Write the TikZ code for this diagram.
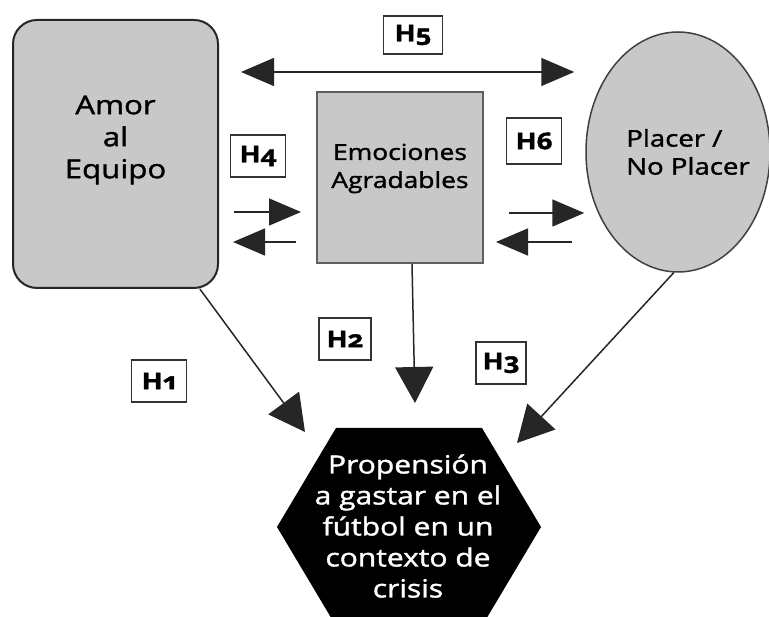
\documentclass[tikz,border=0pt]{standalone}
\usepackage{fontspec}
\setmainfont{Open Sans}[FakeStretch=1.2,FakeBold=1.5,Numbers=OldStyle]
\usepackage{tikz}
\usetikzlibrary{arrows.meta,shapes.geometric}
\definecolor{boxgray}{RGB}{200,200,200}
\definecolor{edgegray}{RGB}{95,95,95}

\begin{document}
\begin{tikzpicture}[x=1pt,y=1pt,
        construct/.style={draw=edgegray, line width=2pt, fill=boxgray, inner sep=0pt},
        hyp/.style={draw=black!80, line width=1.5pt, fill=white, minimum width=55pt, minimum height=42pt,
          inner sep=0pt, font={\fontsize{23}{23}\selectfont\bfseries}},
        bigarrow/.style={line width=1.5pt, black!85, -{Triangle[length=36pt,width=38pt]}},
        smallarrow/.style={line width=1.5pt, black!85, -{Triangle[length=32pt,width=27pt]}}]
          \useasboundingbox (0,0) rectangle (769,617);

          %draw constructs
          \node[construct, draw=black!85, rounded corners=24pt, minimum width=205pt, minimum height=268pt,
                label={[yshift=14pt, align=center, font=\fontsize{26}{32}\selectfont]center:Amor\\al\\Equipo}] (amor) at (115.5,463) {};
          \node[construct, minimum width=166pt, minimum height=171pt,
                label={[yshift=9pt, align=center, font=\fontsize{22}{28}\selectfont]center:Emociones\\Agradables}] (emo) at (400,439.5) {};
          \node[construct, ellipse, draw=black!75, line width=1.5pt, minimum width=184pt, minimum height=240pt,
                label={[xshift=10pt, align=left, font=\fontsize{23}{28}\selectfont]center:Placer /\\No Placer}] (placer) at (678,465) {};

          %draw outcome hexagon
          \coordinate (propc) at (409,90);
          \fill (propc) ++(-132,0) -- ++(59,99) -- ++(146,0) -- ++(59,-99) -- ++(-59,-99) -- ++(-146,0) -- cycle;
          \node[align=center, text=white, font=\fontsize{25}{31}\selectfont] (prop) at ([xshift=-1pt,yshift=1pt]propc)
                {Propensión\\a gastar en el\\fútbol en un\\contexto de\\crisis};

          %hypotheses
          \node[hyp] (h1) at (159,236) {H1};
          \node[hyp, minimum width=52pt] (h2) at (345,278) {H2};
          \node[hyp, minimum width=50pt] (h3) at (501,254) {H3};
          \node[hyp] (h4) at (258,461) {H4};
          \node[hyp, minimum width=59pt, minimum height=38pt] (h5) at (413,582) {H5};
          \node[hyp, minimum height=46pt] (h6) at (534,476) {H6};

          %H5 double arrow
          \draw[line width=1.5pt, black!85, {Triangle[length=33pt,width=28pt]}-{Triangle[length=33pt,width=28pt]},
                shorten <=22pt, shorten >=11pt] ([yshift=82pt]amor.east) -- ([yshift=82pt]amor.east -| placer.west);

          %H4 arrows
          \draw[smallarrow, shorten <=15pt, shorten >=15pt] ([yshift=-58pt]amor.east) -- ([yshift=-58pt]amor.east -| emo.west);
          \draw[smallarrow, shorten <=20pt, shorten >=14pt] ([yshift=-88pt]amor.east -| emo.west) -- ([yshift=-88pt]amor.east);

          %H6 arrows
          \draw[smallarrow, shorten <=25pt, shorten >=1pt] ([yshift=-35.5pt]emo.east) -- ([yshift=-35.5pt]emo.east -| placer.west);
          \draw[smallarrow, shorten <=13pt, shorten >=12pt] ([yshift=-64.5pt]emo.east -| placer.west) -- ([yshift=-64.5pt]emo.east);

          %arrows into the outcome
          \coordinate (h1end) at (305,185);
          \coordinate (h2end) at (415,214);
          \coordinate (h3end) at (517,174);
          \draw[bigarrow] (amor.-58) -- (h1end);
          \draw[bigarrow] ([xshift=12pt]emo.south) -- (h2end);
          \draw[bigarrow] (placer.-92) -- (h3end);
    \end{tikzpicture}
\end{document}
